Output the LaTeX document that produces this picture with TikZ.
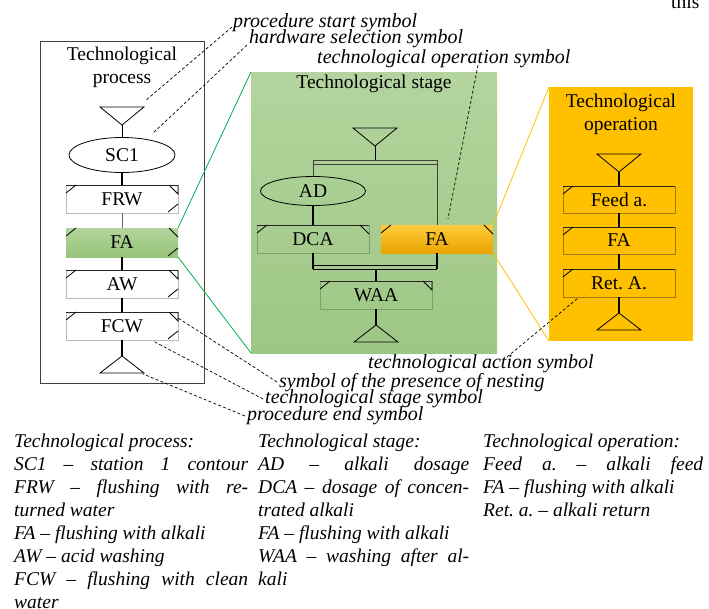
\documentclass[tikz,border=0pt]{standalone}
\usepackage{fontspec}
\setmainfont{Liberation Serif}
\usetikzlibrary{calc,shapes.geometric}
\frenchspacing
\definecolor{stgTop}{HTML}{B3D49E}
\definecolor{stgBot}{HTML}{9DC784}
\definecolor{gbTop}{HTML}{B2D49C}
\definecolor{gbBot}{HTML}{97C47A}
\definecolor{opOr}{HTML}{FFC000}
\definecolor{obTop}{HTML}{FFCB3C}
\definecolor{obBot}{HTML}{EAA500}
\definecolor{zGreen}{HTML}{00B050}
\definecolor{boxEdge}{HTML}{BBBBBB}
\definecolor{sgEdge}{HTML}{7F9F6A}
\definecolor{obEdge}{HTML}{A07810}
\tikzset{
 txt/.style={font=\fontsize{19.5}{23}\selectfont},
 lab/.style={font=\fontsize{20}{23}\selectfont\itshape, inner sep=0pt, anchor=base west},
 btxt/.style={font=\fontsize{19.5}{23}\selectfont\itshape, inner sep=0pt, anchor=base west},
 tri/.style={draw=black, line width=0.8pt, line join=miter},
 thinc/.style={draw=black, line width=0.8pt},
 thickc/.style={draw=black, line width=1.7pt},
 tickline/.style={draw=black, line width=0.8pt},
 topline/.style={draw=black!85, line width=0.9pt},
 dsh/.style={draw=black, line width=0.7pt, dash pattern=on 3pt off 2.2pt},
 greenline/.style={draw=zGreen, line width=0.8pt},
 orangeline/.style={draw=opOr, line width=0.8pt},
 sbox/.style={rectangle, txt, minimum width=112pt, minimum height=28pt, inner sep=0pt, outer sep=0pt, draw=boxEdge, line width=0.5pt},
 sgbox/.style={sbox, draw=sgEdge},
 gbox/.style={sbox, draw=none, top color=gbTop, bottom color=gbBot},
 obox/.style={sbox, draw=none, top color=obTop, bottom color=obBot},
 obox2/.style={sbox, draw=obEdge, fill=opOr},
 ell/.style={ellipse, txt, draw=black, line width=0.8pt, inner sep=0pt, outer sep=0pt},
 title/.style={txt, inner sep=0pt, align=center, anchor=base},
}
\newcommand\topedge[1]{\draw[topline] (#1.north west) -- (#1.north east);}
\newcommand\tickTL[1]{\draw[tickline] ($(#1.north west)+(0,8)$) -- ($(#1.north west)+(10,0)$);}
\newcommand\tickTR[1]{\draw[tickline] ($(#1.north east)+(-9,0)$) -- ($(#1.north east)+(0,9)$);}
\newcommand\tickTRT[1]{\draw[tickline] ($(#1.north east)+(-9,0)$) -- ($(#1.north east)+(0,9)$) -- (#1.north east);}
\newcommand\tickBR[1]{\draw[tickline] ($(#1.south east)+(-10,-1)$) -- ($(#1.south east)+(0,-9)$);}
\begin{document}
\begin{tikzpicture}[x=1pt,y=-1pt]
\useasboundingbox (0,0) rectangle (709,608);
% text of the page above
\node[txt, inner sep=0pt, anchor=base west] (thisw) at (671,8) {this};

% panels
\node[draw=black!75, line width=0.8pt, minimum width=164pt, minimum height=342pt, inner sep=0pt, anchor=north west] (procpanel) at (40,41) {};
\node[top color=stgTop, bottom color=stgBot, minimum width=246pt, minimum height=281pt, inner sep=0pt, outer sep=0pt, anchor=north west] (stagepanel) at (251,72) {};
\node[fill=opOr, minimum width=144pt, minimum height=254pt, inner sep=0pt, outer sep=0pt, anchor=north west] (oppanel) at (549,87) {};

\node[title] (proctitle) at (122,83) {Technological\\process};
\node[title] (stagetitle) at (374,88) {Technological stage};
\node[title] (optitle) at (621,130) {Technological\\operation};

% ---------- technological process ----------
\draw[tri] (100,107) -- (144,107) -- (122,125) -- cycle;
\coordinate (ps) at (122,125);
\node[ell, minimum width=106pt, minimum height=35pt] (sc1) at (122,155) {SC1};
\node[sbox] (frw) at (122,199) {FRW};
\node[gbox, minimum height=29pt] (fal) at (122,242.5) {FA};
\node[sbox] (aw) at (122,284) {AW};
\node[sbox] (fcw) at (122,326) {FCW};
\draw[tri] (122,356) -- (144,373) -- (100,373) -- cycle;
\coordinate (pe) at (122,356);
\topedge{frw}\tickTL{frw}\tickTRT{frw}\tickBR{frw}
\tickTL{fal}\tickTR{fal}\tickBR{fal}
\topedge{aw}\tickTL{aw}\tickTRT{aw}\tickBR{aw}
\topedge{fcw}\tickTL{fcw}\tickTRT{fcw}\tickBR{fcw}
\draw[thinc] (ps) -- (sc1);
\draw[thickc] (sc1) -- (frw);
\draw[thinc, draw=black!60] (frw) -- (fal);
\draw[thickc] (fal) -- (aw);
\draw[thickc] (aw) -- (fcw);
\draw[thickc] (fcw) -- (pe);

% ---------- technological stage ----------
\draw[tri] (353,128) -- (397,128) -- (375,146) -- cycle;
\coordinate (ss) at (375,146);
\coordinate (nestTL) at (313,160);
\coordinate (nestTR) at (437,160);
\coordinate (nestT) at (375,160);
\node[ell, minimum width=105pt, minimum height=29pt] (ad) at (313,191) {AD};
\node[sgbox] (dca) at (313,239) {DCA};
\node[obox] (fao) at (437,239) {FA};
\coordinate (nestBL) at (313,269);
\coordinate (nestBR) at (437,269);
\coordinate (nestB) at (376,269);
\node[sgbox] (waa) at (376,295) {WAA};
\draw[tri] (376,325) -- (398,342) -- (354,342) -- cycle;
\coordinate (se) at (376,325);
\topedge{dca}\tickTL{dca}\tickTR{dca}
\tickTL{fao}\tickTR{fao}
\topedge{waa}\tickTL{waa}\tickTRT{waa}
\draw[thinc] (ss) -- (nestT);
\draw[thinc, draw=black!75] (nestTL) -- (nestTR);
\draw[thinc, draw=black!75] ($(nestTL)+(0,4)$) -- ($(nestTR)+(0,4)$);
\draw[thinc, draw=black!75] (nestTL) -- (ad);
\draw[line width=1pt, draw=black!75] (nestTR) -- (fao);
\draw[thickc] (ad) -- (dca);
\draw[thickc] (dca) -- (nestBL);
\draw[thickc] (fao) -- (nestBR);
\draw[thinc] ($(nestBL)+(0,-4)$) -- ($(nestBR)+(0,-4)$);
\draw[thinc] (nestBL) -- (nestBR);
\draw[thickc] (nestB) -- (waa);
\draw[thickc] (waa) -- (se);

% ---------- technological operation ----------
\draw[tri] (597,154) -- (641,154) -- (619,172) -- cycle;
\coordinate (os) at (619,172);
\node[obox2, minimum height=27pt] (feed) at (619,199.5) {Feed a.};
\node[obox2, minimum height=27pt] (fao2) at (619,240.5) {FA};
\node[obox2] (ret) at (619,283) {Ret. A.};
\draw[tri] (619,313) -- (641,330) -- (597,330) -- cycle;
\coordinate (oe) at (619,313);
\topedge{feed}\tickTL{feed}
\topedge{fao2}\tickTL{fao2}
\topedge{ret}\tickTL{ret}
\draw[thickc] (os) -- (feed);
\draw[thickc] (feed) -- (fao2);
\draw[thickc] (fao2) -- (ret);
\draw[thickc] (ret) -- (oe);

% ---------- zoom connectors ----------
\draw[greenline] (fal.north east) -- (stagepanel.north west);
\draw[greenline] (fal.south east) -- (stagepanel.south west);
\draw[orangeline] (fao.north east) -- (oppanel.north west);
\draw[orangeline] (fao.south east) -- (oppanel.south west);

% ---------- labels ----------
\node[lab] (lps) at (233,27) {procedure start symbol};
\node[lab] (lhw) at (249,43) {hardware selection symbol};
\node[lab] (lto) at (317,63) {technological operation symbol};
\node[lab] (lta) at (368,368) {technological action symbol};
\node[lab] (lne) at (279,387) {symbol of the presence of nesting};
\node[lab] (lts) at (265,403) {technological stage symbol};
\node[lab] (lpe) at (247,420) {procedure end symbol};
\coordinate (psT) at (145,101);
\coordinate (hwT) at (152,134);
\coordinate (toA) at (478,65);
\coordinate (toT) at (448,219);
\coordinate (taA) at (507,357);
\coordinate (taT) at (578,298);
\coordinate (neA) at (277,382);
\coordinate (neT) at (178,318);
\coordinate (tsA) at (263,399);
\coordinate (tsT) at (153,341);
\coordinate (peA) at (245,416);
\coordinate (peT) at (143,374);
\draw[dsh] ($(lps.base west)+(-1,0)$) -- (psT);
\draw[dsh] ($(lhw.base west)+(-2,2)$) -- (hwT);
\draw[dsh] (toA) -- (toT);
\draw[dsh] (taA) -- (taT);
\draw[dsh] (neA) -- (neT);
\draw[dsh] (tsA) -- (tsT);
\draw[dsh] (peA) -- (peT);

% ---------- legend ----------
\node[btxt] (a1) at (14,447) {Technological process:};
\node[btxt] (a2) at (14,470) {\makebox[234pt][s]{SC1 – station 1 contour}};
\node[btxt] (a3) at (14,493) {\makebox[234pt][s]{FRW – flushing with re-}};
\node[btxt] (a4) at (14,516) {turned water};
\node[btxt] (a5) at (14,539) {FA – flushing with alkali};
\node[btxt] (a6) at (14,562) {AW – acid washing};
\node[btxt] (a7) at (14,585) {\makebox[234pt][s]{FCW – flushing with clean}};
\node[btxt] (a8) at (14,608) {water};

\node[btxt] (b1) at (258,447) {Technological stage:};
\node[btxt] (b2) at (258,470) {\makebox[211pt][s]{AD – alkali dosage}};
\node[btxt] (b3) at (258,493) {\makebox[211pt][s]{DCA – dosage of concen-}};
\node[btxt] (b4) at (258,516) {trated alkali};
\node[btxt] (b5) at (258,539) {FA – flushing with alkali};
\node[btxt] (b6) at (258,562) {\makebox[211pt][s]{WAA – washing after al-}};
\node[btxt] (b7) at (258,585) {kali};

\node[btxt] (c1) at (483,447) {Technological operation:};
\node[btxt] (c2) at (483,470) {\makebox[220pt][s]{Feed a. – alkali feed}};
\node[btxt] (c3) at (483,493) {FA – flushing with alkali};
\node[btxt] (c4) at (483,516) {Ret. a. – alkali return};
\end{tikzpicture}
\end{document}
